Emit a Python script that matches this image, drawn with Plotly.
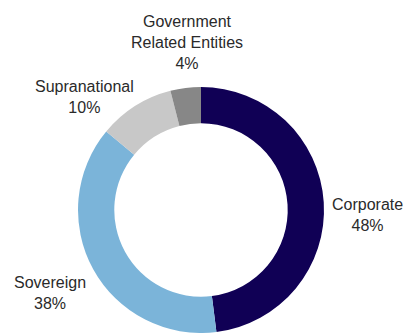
import plotly.graph_objects as go

labels = ["Corporate", "Sovereign", "Supranational", "Government Related Entities"]
values = [48, 38, 10, 4]
label_text = ["Corporate<br>48%", "Sovereign<br>38%", "Supranational<br>10%",
              "Government<br>Related Entities<br>4%"]
colors = ["#100055", "#7BB4D9", "#C8C8C8", "#878787"]

W, H = 403, 333
# label anchor positions in pixels (centre of text block)
label_px = [(367, 215), (50, 293), (84, 97), (187, 42)]

fig = go.Figure(go.Pie(
    labels=labels, values=values, hole=0.705, sort=False,
    direction="clockwise", rotation=0, textinfo="none",
    marker=dict(colors=colors, line=dict(width=0)),
    domain=dict(x=[77 / W, 325 / W], y=[0, 1 - 87 / H]),
    showlegend=False, hoverinfo="label+percent",
))

for txt, (px, py) in zip(label_text, label_px):
    fig.add_annotation(text=txt, x=px / W, y=1 - py / H, xref="paper", yref="paper",
                       xanchor="center", yanchor="middle", showarrow=False,
                       font=dict(family="Liberation Sans, Arial", size=16, color="#2a2a2a"))

fig.update_layout(width=W, height=H, margin=dict(l=0, r=0, t=0, b=0),
                  paper_bgcolor="white", plot_bgcolor="white")
fig.write_html("out.html")
